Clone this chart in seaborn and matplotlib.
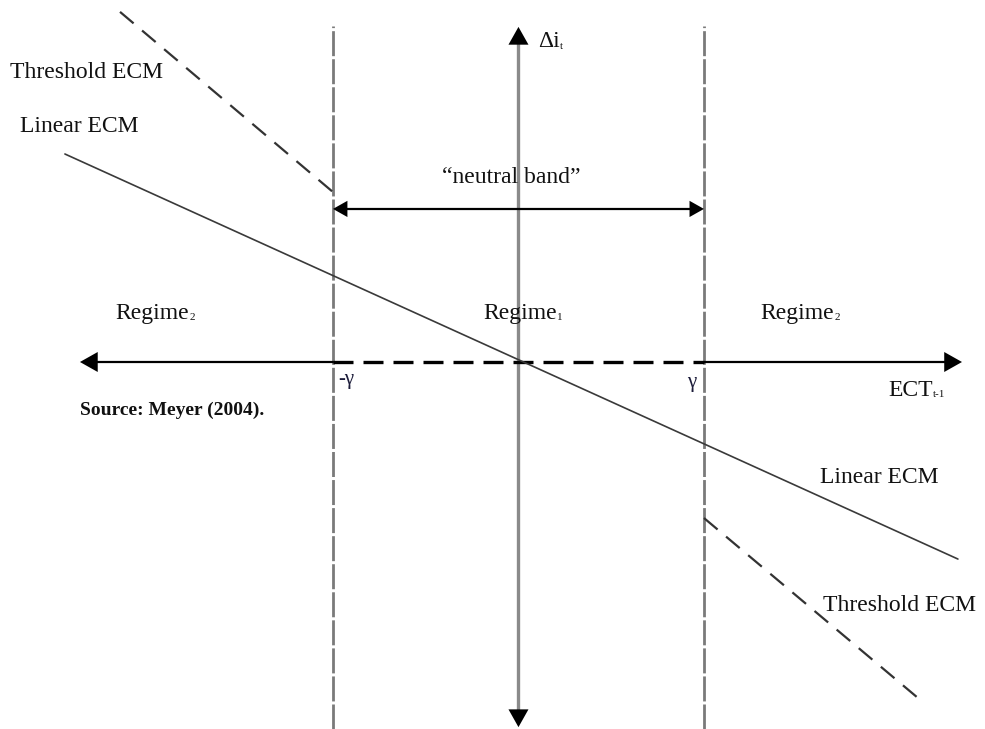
"""Threshold vs linear ECM diagram (neutral band), after Meyer (2004)."""

import matplotlib.pyplot as plt
import numpy as np
import seaborn as sns

# units: gamma = 1, origin at the crossing of the two axes
GAMMA = 1.0
X_LIM = (-2.795, 2.515)
Y_LIM = (-1.978, 1.951)

x_axis_ends = [-2.364, 2.391]
y_axis_ends = [-1.968, 1.806]
band_line_ends = [-1.98, 1.81]
neutral_band_y = 0.825

linear_x = [-2.445, 2.369]
linear_y = [1.121, -1.062]
thr_left_x = [-2.148, -1.0]
thr_left_y = [1.887, 0.916]
thr_right_x = [1.0, 2.148]
thr_right_y = [-0.841, -1.806]

# label text, subscript, x, y, horizontal alignment
labels = [
    ("Threshold ECM", "", -2.741, 1.558, "left"),
    ("Linear ECM", "", -2.687, 1.267, "left"),
    ("\u201cneutral band\u201d", "", -0.038, 0.997, "center"),
    ("Regime", "2", -2.175, 0.264, "left"),
    ("Regime", "1", -0.191, 0.264, "left"),
    ("Regime", "2", 1.302, 0.264, "left"),
    ("Linear ECM", "", 1.625, -0.625, "left"),
    ("Threshold ECM", "", 1.642, -1.310, "left"),
    ("\u0394i", "t", 0.105, 1.725, "left"),
    ("ECT", "t-1", 1.992, -0.151, "left"),
]
gamma_labels = [("-\u03b3", -0.973, -0.097), ("\u03b3", 0.908, -0.108)]
source_note = ("Source: Meyer (2004).", -2.364, -0.259)


def head(ax, tip, tail, color="black", scale=16):
    ax.annotate(
        "",
        xy=tip,
        xytext=tail,
        arrowprops=dict(
            arrowstyle="-|>,head_length=0.8,head_width=0.45",
            color=color,
            lw=0,
            mutation_scale=scale,
            shrinkA=0,
            shrinkB=0,
        ),
    )


def main() -> None:
    sns.set_theme(style="white")
    plt.rcParams["font.family"] = ["Liberation Serif", "DejaVu Serif"]

    fig = plt.figure(figsize=(9.85, 7.29), dpi=100)
    ax = fig.add_axes([0, 0, 1, 1])
    ax.set_xlim(*X_LIM)
    ax.set_ylim(*Y_LIM)
    ax.axis("off")

    # band limits at -gamma and +gamma
    for gx in (-GAMMA, GAMMA):
        ax.plot([gx, gx], band_line_ends, color="#7a7a7a", lw=2.0,
                linestyle=(0, (9, 1.1)), zorder=1)

    # vertical axis: grey shaft, black heads
    ax.plot([0, 0], [y_axis_ends[0] + 0.08, y_axis_ends[1] - 0.08],
            color="#8a8a8a", lw=2.4, zorder=2)
    head(ax, (0, y_axis_ends[1]), (0, y_axis_ends[1] - 0.1))
    head(ax, (0, y_axis_ends[0]), (0, y_axis_ends[0] + 0.1))

    # horizontal axis: solid outside the band, dashed inside
    ax.plot([x_axis_ends[0] + 0.08, -GAMMA], [0, 0], color="black", lw=1.6, zorder=2)
    ax.plot([GAMMA, x_axis_ends[1] - 0.08], [0, 0], color="black", lw=1.6, zorder=2)
    ax.plot([-GAMMA, GAMMA], [0, 0], color="black", lw=2.4,
            linestyle=(0, (6, 3)), zorder=2)
    head(ax, (x_axis_ends[0], 0), (x_axis_ends[0] + 0.1, 0))
    head(ax, (x_axis_ends[1], 0), (x_axis_ends[1] - 0.1, 0))

    # neutral band double arrow
    ax.plot([-GAMMA + 0.06, GAMMA - 0.06], [neutral_band_y] * 2,
            color="black", lw=1.6, zorder=2)
    head(ax, (-GAMMA, neutral_band_y), (-GAMMA + 0.08, neutral_band_y), scale=13)
    head(ax, (GAMMA, neutral_band_y), (GAMMA - 0.08, neutral_band_y), scale=13)

    # ECM lines
    sns.lineplot(x=linear_x, y=linear_y, sort=False, color="#3a3a3a",
                 lw=1.2, ax=ax, zorder=3)
    for tx, ty in [(thr_left_x, thr_left_y), (thr_right_x, thr_right_y)]:
        sns.lineplot(x=tx, y=ty, sort=False, color="#333333", lw=1.6,
                     linestyle=(0, (8, 5)), ax=ax, zorder=3)

    for text, sub, x, y, ha in labels:
        t = ax.text(x, y, text, ha=ha, va="center", fontsize=17, color="#111111")
        if sub:
            ax.annotate(sub, xy=(1.0, 0.0), xycoords=t, xytext=(0.5, 1),
                        textcoords="offset points", ha="left", va="bottom",
                        fontsize=8, color="#111111")
    for text, x, y in gamma_labels:
        ax.text(x, y, text, ha="left", va="center", fontsize=15, color="#1c1c3a")
    text, x, y = source_note
    ax.text(x, y, text, ha="left", va="center", fontsize=14,
            fontweight="bold", color="#111111")

    fig.savefig("out.png", dpi=100)
    plt.close(fig)


if __name__ == "__main__":
    main()
